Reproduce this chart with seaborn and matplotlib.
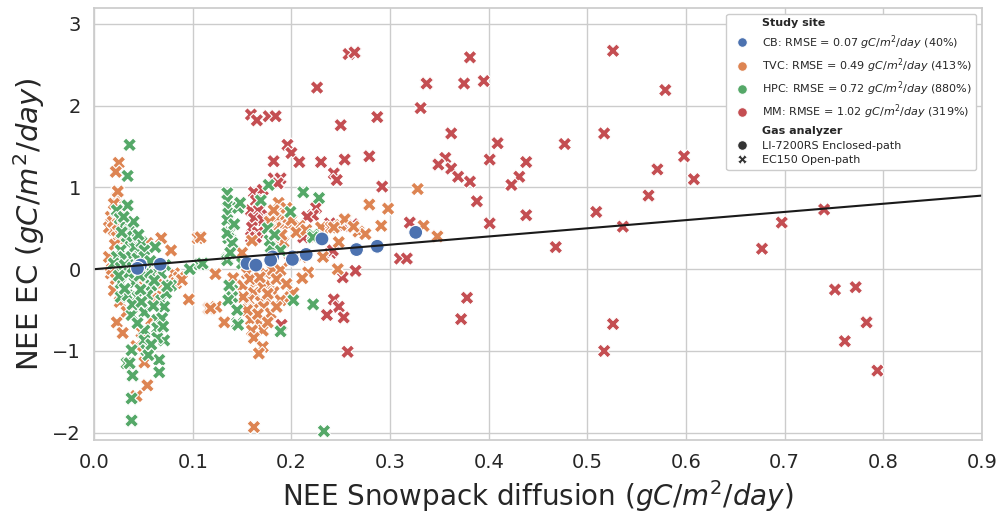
import numpy as np
import pandas as pd
import seaborn as sns
import matplotlib.pyplot as plt

# labels for the legend
site_labels = {
    "CB": "CB: RMSE = 0.07 $gC/m^2/day$ (40%)",
    "TVC": "TVC: RMSE = 0.49 $gC/m^2/day$ (413%)",
    "HPC": "HPC: RMSE = 0.72 $gC/m^2/day$ (880%)",
    "MM": "MM: RMSE = 1.02 $gC/m^2/day$ (319%)",
}
analyzers = {"CB": "LI-7200RS Enclosed-path", "TVC": "EC150 Open-path",
             "HPC": "EC150 Open-path", "MM": "EC150 Open-path"}
site_order = ["CB", "TVC", "HPC", "MM"]
analyzer_order = ["LI-7200RS Enclosed-path", "EC150 Open-path"]

# CB (closed path)
cb_x = [0.045, 0.047, 0.044, 0.067, 0.155, 0.164, 0.181, 0.179, 0.201, 0.201,
        0.215, 0.231, 0.266, 0.287, 0.326]
cb_y = [0.04, 0.05, 0.01, 0.06, 0.07, 0.05, 0.15, 0.11, 0.15, 0.12,
        0.18, 0.37, 0.24, 0.28, 0.45]

# TVC
tvc_x = [0.025, 0.022, 0.023, 0.017, 0.015, 0.020, 0.023, 0.027, 0.068, 0.078,
         0.054, 0.015, 0.017, 0.081, 0.086, 0.083, 0.063, 0.023, 0.029, 0.043,
         0.051, 0.054, 0.043, 0.058, 0.046, 0.020, 0.105, 0.089, 0.096, 0.116,
         0.123, 0.124, 0.132, 0.141, 0.118, 0.108,
         0.019, 0.024, 0.021, 0.018, 0.022, 0.024, 0.030, 0.026, 0.050, 0.059,
         0.055, 0.062, 0.048, 0.040, 0.033, 0.070, 0.020,
         0.187, 0.186, 0.192, 0.184, 0.189, 0.184, 0.197, 0.208, 0.187, 0.192,
         0.230, 0.240, 0.250, 0.255, 0.248, 0.232, 0.247, 0.217, 0.211,
         0.155, 0.141, 0.151, 0.164, 0.174, 0.181, 0.189, 0.162, 0.171, 0.179,
         0.182, 0.157, 0.169, 0.177, 0.151, 0.162, 0.189, 0.199, 0.202, 0.172,
         0.179, 0.159, 0.167, 0.171, 0.160, 0.162, 0.171, 0.167, 0.162,
         0.158, 0.168, 0.185, 0.195, 0.176, 0.166, 0.155, 0.185, 0.176, 0.190,
         0.182, 0.195, 0.200, 0.178, 0.205, 0.215, 0.225, 0.160, 0.150, 0.198,
         0.210,
         0.279, 0.298, 0.328, 0.254, 0.243, 0.268, 0.275, 0.291, 0.334, 0.348,
         0.247, 0.263]
tvc_y = [1.30, 1.19, 0.87, 0.64, 0.51, 0.48, 0.39, 0.35, 0.38, 0.23,
         0.32, 0.15, -0.05, -0.05, -0.10, -0.17, -0.32, -0.65, -0.78, -0.94,
         -1.14, -1.42, -1.55, -0.62, -0.48, -0.26, 0.38, -0.13, -0.37, -0.48,
         -0.06, -0.46, -0.65, -0.11, -0.48, 0.39,
         0.58, 0.55, 0.30, 0.00, -0.12, 0.95, 0.72, -0.40, -0.22, -0.36,
         0.08, -0.05, -0.77, 0.08, -0.52, -0.18, 0.80,
         0.81, 0.68, 0.64, 0.62, 0.51, 0.51, 0.54, 0.53, 0.35, 0.33,
         0.51, 0.51, 0.54, 0.61, 0.33, 0.15, 0.01, -0.04, -0.11,
         -0.05, -0.11, -0.20, -0.16, -0.05, -0.01, -0.01, -0.29, -0.22, -0.20,
         -0.28, -0.38, -0.40, -0.38, -0.34, -0.48, -0.38, -0.34, -0.29, -0.46,
         -0.54, -0.62, -0.65, -0.75, -0.75, -0.84, -0.95, -1.03, -1.93,
         -0.12, -0.10, -0.12, -0.18, -0.30, -0.55, -0.50, -0.46, -0.65, 0.42,
         0.72, 0.75, 0.60, 0.58, 0.45, 0.48, 0.40, 0.35, 0.20, 0.10,
         0.15,
         0.79, 0.74, 0.98, 0.61, 0.51, 0.46, 0.43, 0.53, 0.53, 0.40,
         0.00, 0.52]

# HPC
hpc_x = [0.036, 0.034, 0.034, 0.023, 0.026, 0.030, 0.036, 0.038, 0.034, 0.041,
         0.048, 0.051, 0.027, 0.023, 0.030, 0.038, 0.044, 0.051, 0.054, 0.068,
         0.020, 0.027, 0.058, 0.054, 0.078, 0.058, 0.041, 0.027, 0.027, 0.034,
         0.044, 0.054, 0.068, 0.071, 0.051, 0.038, 0.064, 0.064, 0.051, 0.051,
         0.071, 0.064, 0.053, 0.038, 0.033, 0.036, 0.039, 0.066, 0.066, 0.038,
         0.038,
         0.031, 0.035, 0.042, 0.046, 0.033, 0.040, 0.028, 0.045, 0.031, 0.039,
         0.047, 0.057, 0.061, 0.073, 0.069, 0.060, 0.044, 0.055, 0.070, 0.025,
         0.062, 0.072, 0.030, 0.039, 0.048, 0.058,
         0.074, 0.097, 0.107, 0.110, 0.135, 0.135, 0.136, 0.136, 0.135, 0.146,
         0.148, 0.138, 0.136, 0.140, 0.135, 0.135, 0.135, 0.150, 0.140, 0.140,
         0.136, 0.145, 0.145, 0.146, 0.137, 0.142, 0.138,
         0.176, 0.177, 0.169, 0.199, 0.212, 0.228, 0.222, 0.222, 0.179, 0.189,
         0.202, 0.222, 0.189, 0.233, 0.178, 0.183]
hpc_y = [1.52, 1.14, 0.78, 0.72, 0.62, 0.54, 0.48, 0.39, 0.32, 0.27,
         0.33, 0.23, 0.23, 0.15, 0.15, 0.15, 0.13, 0.15, 0.02, -0.05,
         0.07, 0.02, -0.06, -0.07, -0.20, -0.20, -0.16, -0.17, -0.34, -0.32,
         -0.34, -0.32, -0.38, -0.46, -0.53, -0.56, -0.62, -0.72, -0.75, -0.87,
         -0.87, -0.84, -0.99, -0.99, -1.15, -1.15, -1.30, -1.11, -1.26, -1.58,
         -1.85,
         0.05, -0.05, 0.05, -0.08, 0.40, 0.58, 0.45, 0.42, -0.24, -0.43,
         -0.25, 0.10, -0.14, -0.29, -0.60, -0.45, -0.66, -1.05, -0.70, -0.08,
         0.27, 0.05, 0.64, 0.02, -0.40, -0.92,
         -0.21, 0.00, 0.06, 0.07, 0.93, 0.84, 0.76, 0.68, 0.60, 0.75,
         0.81, 0.45, 0.38, 0.32, 0.44, 0.13, 0.11, 0.07, -0.26, -0.34,
         -0.38, -0.50, -0.66, -0.68, -0.20, 0.55, 0.20,
         0.50, 1.03, 0.84, 0.70, 0.94, 0.87, 0.42, 0.39, 0.27, 0.23,
         -0.38, -0.43, -0.76, -1.98, 0.35, 0.42]

# MM
mm_x = [0.159, 0.165, 0.177, 0.184, 0.226, 0.258, 0.264, 0.381, 0.526, 0.579,
        0.337, 0.375, 0.395, 0.331, 0.250, 0.287, 0.362, 0.409, 0.477, 0.517,
        0.254, 0.279, 0.243, 0.246, 0.292, 0.356, 0.349, 0.362, 0.369, 0.381,
        0.401, 0.438, 0.431, 0.423, 0.388, 0.401, 0.438, 0.509, 0.536, 0.468,
        0.320, 0.262, 0.310, 0.317, 0.265, 0.252, 0.243, 0.248, 0.253, 0.257,
        0.378, 0.372, 0.526, 0.517,
        0.571, 0.598, 0.608, 0.562, 0.697, 0.677, 0.740, 0.751, 0.772, 0.783,
        0.761, 0.794,
        0.196, 0.200, 0.182, 0.208, 0.230, 0.182, 0.189, 0.186, 0.162, 0.171,
        0.164, 0.159, 0.167, 0.176, 0.162, 0.171, 0.160, 0.166, 0.159, 0.164,
        0.225, 0.222, 0.216, 0.212, 0.240, 0.236, 0.190, 0.239, 0.253, 0.242]
mm_y = [1.89, 1.82, 1.87, 1.87, 2.22, 2.63, 2.65, 2.59, 2.67, 2.19,
        2.27, 2.27, 2.30, 1.97, 1.76, 1.86, 1.66, 1.54, 1.53, 1.66,
        1.34, 1.38, 1.17, 1.09, 1.01, 1.36, 1.28, 1.23, 1.13, 1.07,
        1.34, 1.31, 1.13, 1.03, 0.83, 0.56, 0.66, 0.70, 0.52, 0.27,
        0.57, 0.55, 0.13, 0.13, -0.02, -0.10, -0.37, -0.46, -0.59, -1.01,
        -0.35, -0.61, -0.67, -1.00,
        1.22, 1.38, 1.10, 0.90, 0.57, 0.25, 0.73, -0.25, -0.22, -0.65,
        -0.88, -1.24,
        1.52, 1.42, 1.32, 1.31, 1.31, 1.11, 1.11, 1.05, 0.94, 0.97,
        0.84, 0.72, 0.72, 0.66, 0.62, 0.60, 0.51, 0.45, 0.39, 0.39,
        0.75, 0.66, 0.64, 0.39, 0.20, -0.56, -0.68, 0.56, 0.53, 0.23]

site_data = {"MM": (mm_x, mm_y), "TVC": (tvc_x, tvc_y),
             "HPC": (hpc_x, hpc_y), "CB": (cb_x, cb_y)}

frames = []
for site, (xs, ys) in site_data.items():
    frames.append(pd.DataFrame({
        "diff": xs, "ec": ys,
        "Study site": site_labels[site],
        "Gas analyzer": analyzers[site],
    }))
df = pd.concat(frames, ignore_index=True)

sns.set_theme(style="whitegrid")
fig, ax = plt.subplots(figsize=(10.01, 5.16), dpi=100)
fig.subplots_adjust(left=0.094, right=0.981, top=0.984, bottom=0.147)

sns.scatterplot(data=df, x="diff", y="ec", hue="Study site", style="Gas analyzer",
                hue_order=[site_labels[s] for s in site_order],
                style_order=analyzer_order, palette="deep", s=100, ax=ax)

# 1:1 line
ax.axline((0, 0), slope=1, color="k", lw=1.5, zorder=1)

ax.set_xlim(0, 0.9)
ax.set_ylim(-2.09, 3.19)
ax.set_xticks(np.arange(0, 0.91, 0.1))
ax.set_xlabel("NEE Snowpack diffusion ($gC/m^2/day$)", fontsize=20)
ax.set_ylabel("NEE EC ($gC/m^2/day$)", fontsize=21)
ax.tick_params(labelsize=14)

leg = ax.legend(loc="upper right", fontsize=8, framealpha=1, labelspacing=0.42)
for t in leg.get_texts():
    if t.get_text() in ("Study site", "Gas analyzer"):
        t.set_fontweight("bold")
# smaller legend markers
for h in leg.legend_handles:
    if h is None:
        continue
    if hasattr(h, "set_sizes"):
        h.set_sizes([45])
    elif hasattr(h, "set_markersize"):
        h.set_markersize(7)

fig.savefig("out.png", dpi=100)
